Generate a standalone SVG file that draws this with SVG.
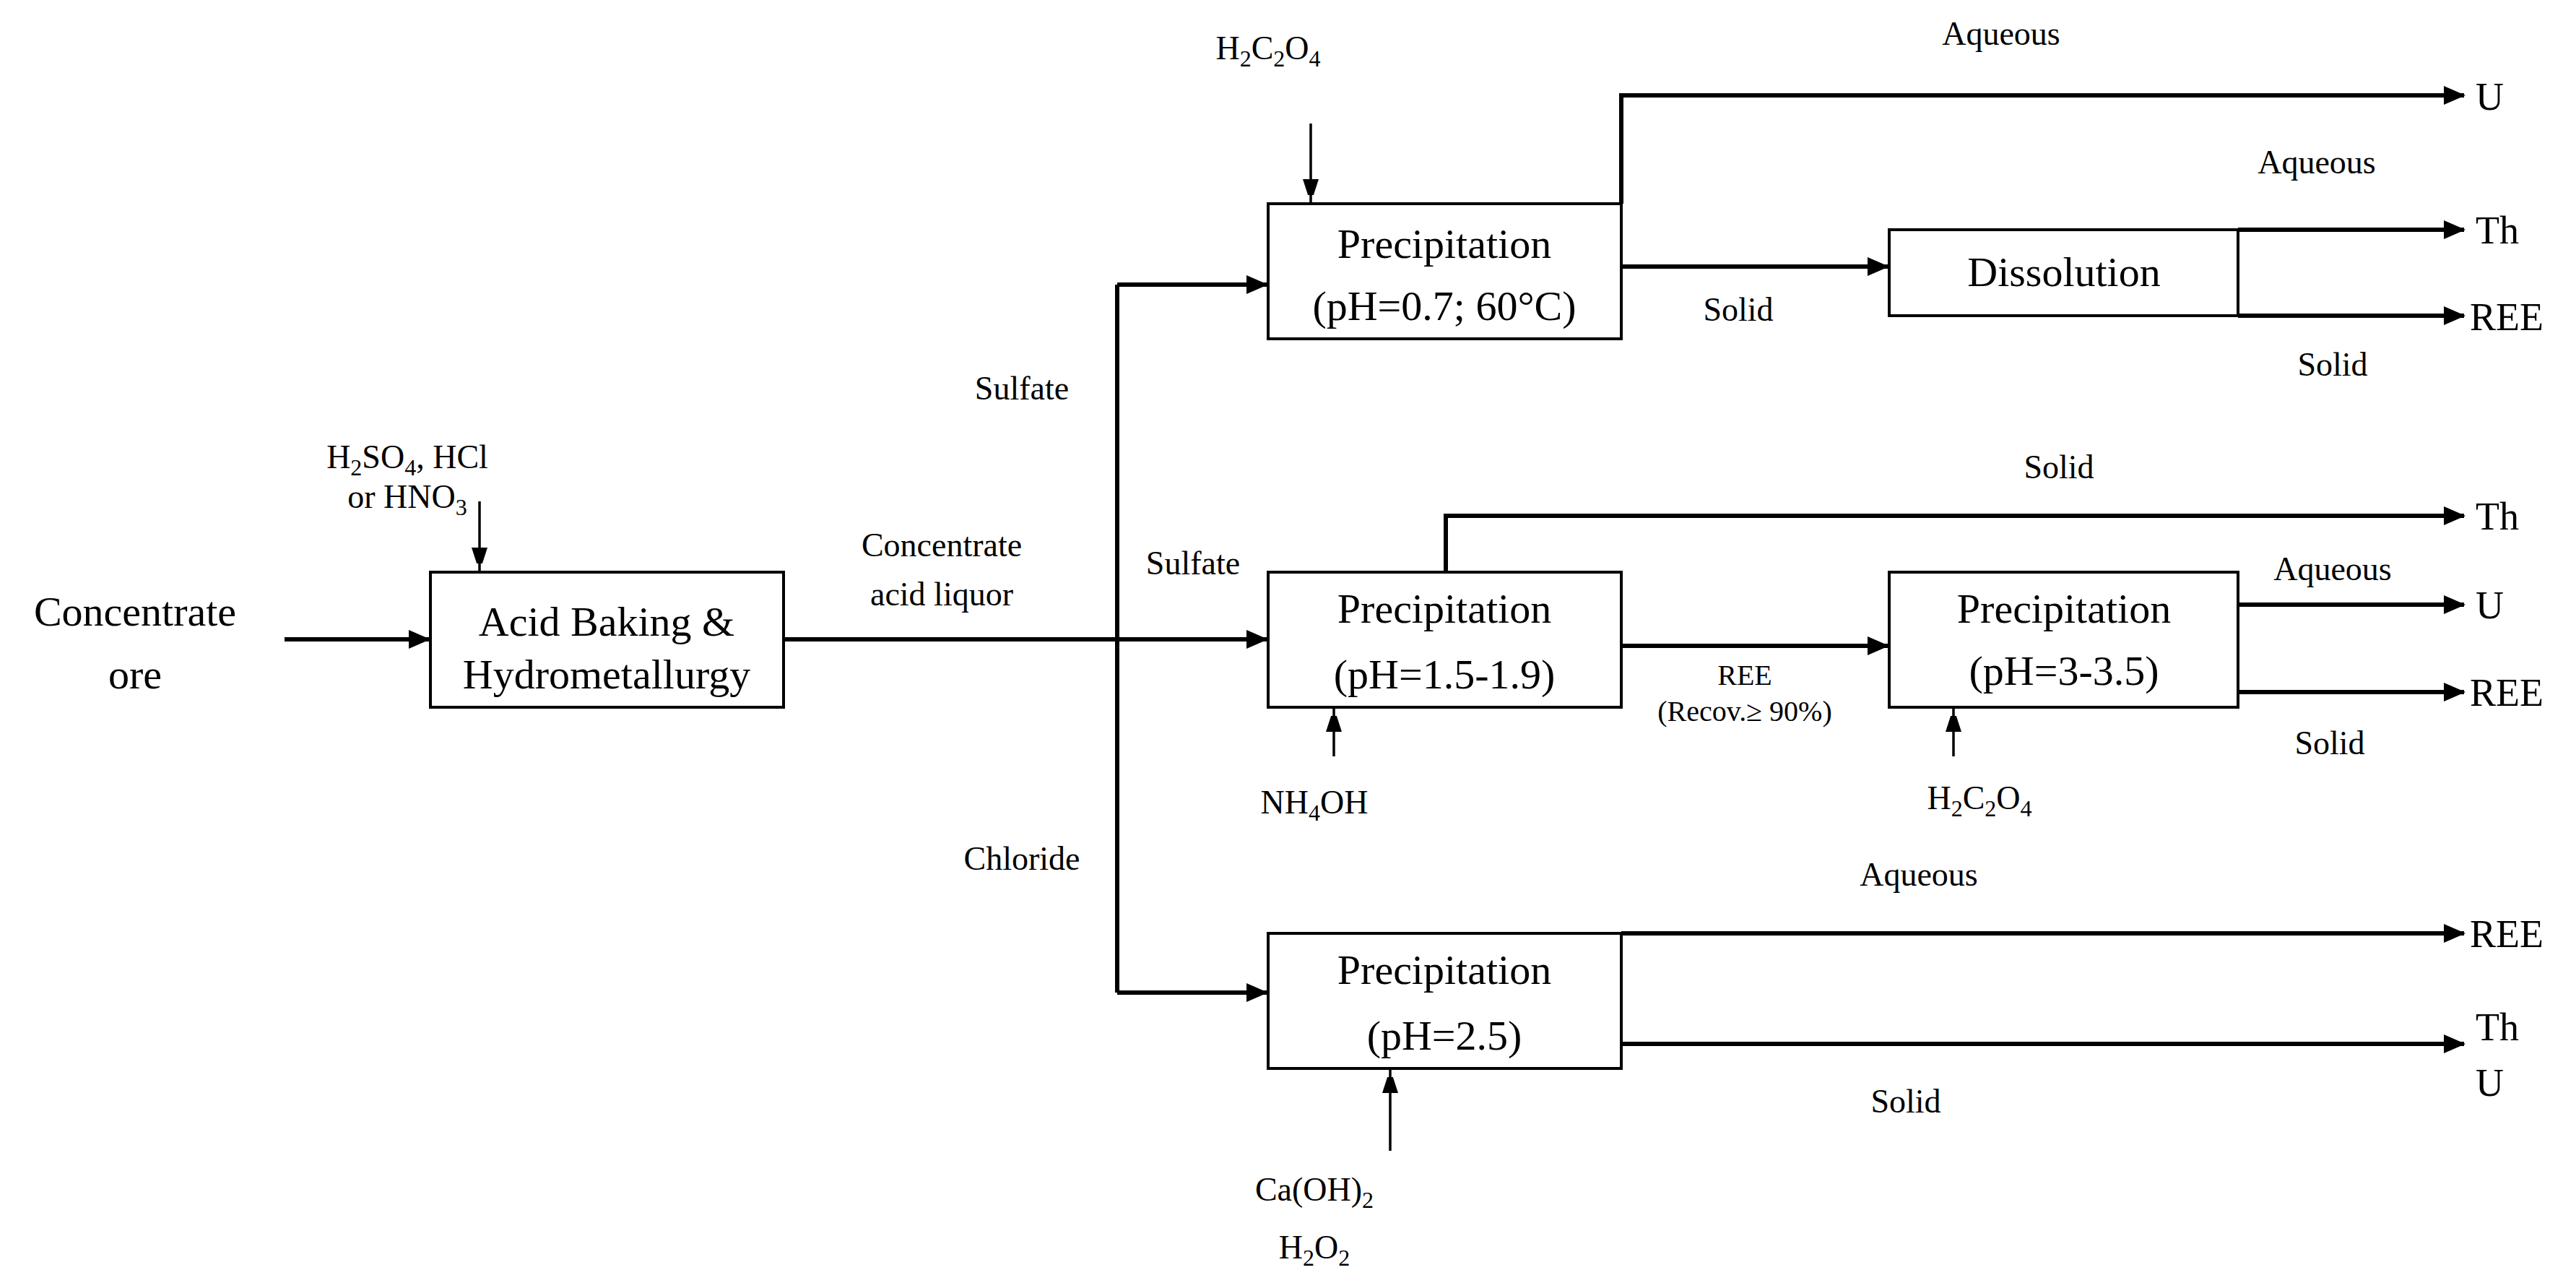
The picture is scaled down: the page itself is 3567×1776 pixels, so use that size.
<svg xmlns="http://www.w3.org/2000/svg" width="3567" height="1776" viewBox="0 0 3567 1776">
<style>
text{font-family:"Liberation Serif","Times New Roman",serif;fill:#000}
.big{font-size:58px;text-anchor:middle}
.lbl{font-size:46px;text-anchor:middle}
.out{font-size:54px}
.sm{font-size:40px;text-anchor:middle}
.box{fill:#fff;stroke:#000;stroke-width:4}
.flow{fill:none;stroke:#000;stroke-width:6}
.reag{fill:none;stroke:#000;stroke-width:3.5}
</style>
<defs>
<marker id="ah" markerUnits="userSpaceOnUse" markerWidth="30" markerHeight="26" refX="28" refY="13" orient="auto"><path d="M0,0 L30,13 L0,26 Z" fill="#000"/></marker>
<marker id="as" markerUnits="userSpaceOnUse" markerWidth="22" markerHeight="34" refX="32" refY="11" orient="auto"><path d="M0,0 L34,11 L0,22 Z" fill="#000"/></marker>
</defs>
<g id="connectors">
<path class="flow" d="M394,885 H594" marker-end="url(#ah)"/>
<path class="reag" d="M664,694 V790" marker-end="url(#as)"/>
<path class="flow" d="M1085,885 H1754" marker-end="url(#ah)"/>
<path class="flow" d="M1547,1374 V394"/>
<path class="flow" d="M1547,394 H1754" marker-end="url(#ah)"/>
<path class="flow" d="M1547,1374 H1754" marker-end="url(#ah)"/>
<path class="reag" d="M1815,171 V280" marker-end="url(#as)"/>
<path class="flow" d="M2245,282 V132 H3412" marker-end="url(#ah)"/>
<path class="flow" d="M2245,369 H2614" marker-end="url(#ah)"/>
<path class="flow" d="M3099,318 H3412" marker-end="url(#ah)"/>
<path class="flow" d="M3099,437 H3412" marker-end="url(#ah)"/>
<path class="flow" d="M2002,792 V714 H3412" marker-end="url(#ah)"/>
<path class="reag" d="M1847,1047 V981" marker-end="url(#as)"/>
<path class="flow" d="M2245,894 H2614" marker-end="url(#ah)"/>
<path class="flow" d="M3099,837 H3412" marker-end="url(#ah)"/>
<path class="flow" d="M3099,958 H3412" marker-end="url(#ah)"/>
<path class="reag" d="M2705,1047 V981" marker-end="url(#as)"/>
<path class="flow" d="M2245,1292 H3412" marker-end="url(#ah)"/>
<path class="flow" d="M2245,1445 H3412" marker-end="url(#ah)"/>
<path class="reag" d="M1925,1593 V1481" marker-end="url(#as)"/>
</g>
<g id="feed">
<text class="big" x="187" y="866">Concentrate</text>
<text class="big" x="187" y="953">ore</text>
</g>
<g id="acid">
<rect class="box" x="596" y="792" width="489" height="187"/>
<text class="big" x="840" y="880">Acid Baking &amp;</text>
<text class="big" x="840" y="953">Hydrometallurgy</text>
</g>
<g id="acid-reagent">
<text class="lbl" x="564" y="648">H<tspan dy="10" font-size="32">2</tspan><tspan dy="-10">SO</tspan><tspan dy="10" font-size="32">4</tspan><tspan dy="-10">, HCl</tspan></text>
<text class="lbl" x="564" y="703">or HNO<tspan dy="10" font-size="32">3</tspan></text>
</g>
<g id="labels">
<text class="lbl" x="1304" y="770">Concentrate</text>
<text class="lbl" x="1304" y="838">acid liquor</text>
<text class="lbl" x="1415" y="553">Sulfate</text>
<text class="lbl" x="1652" y="795">Sulfate</text>
<text class="lbl" x="1415" y="1204">Chloride</text>
<text class="lbl" x="2771" y="62">Aqueous</text>
<text class="lbl" x="2407" y="444">Solid</text>
<text class="lbl" x="3208" y="240">Aqueous</text>
<text class="lbl" x="3230" y="520">Solid</text>
<text class="lbl" x="2851" y="662">Solid</text>
<text class="sm" x="2416" y="948">REE</text>
<text class="sm" x="2416" y="998">(Recov.≥ 90%)</text>
<text class="lbl" x="3230" y="803">Aqueous</text>
<text class="lbl" x="3226" y="1044">Solid</text>
<text class="lbl" x="2657" y="1226">Aqueous</text>
<text class="lbl" x="2639" y="1540">Solid</text>
</g>
<g id="p1">
<rect class="box" x="1756" y="282" width="489" height="187"/>
<text class="big" x="2000" y="357">Precipitation</text>
<text class="big" x="2000" y="443">(pH=0.7; 60°C)</text>
</g>
<g id="p1-reagent"><text class="lbl" x="1756" y="82">H<tspan dy="10" font-size="32">2</tspan><tspan dy="-10">C</tspan><tspan dy="10" font-size="32">2</tspan><tspan dy="-10">O</tspan><tspan dy="10" font-size="32">4</tspan></text></g>
<g id="dissolution">
<rect class="box" x="2616" y="318" width="483" height="119"/>
<text class="big" x="2858" y="396">Dissolution</text>
</g>
<g id="p2">
<rect class="box" x="1756" y="792" width="489" height="187"/>
<text class="big" x="2000" y="862">Precipitation</text>
<text class="big" x="2000" y="953">(pH=1.5-1.9)</text>
</g>
<g id="p2-reagent"><text class="lbl" x="1820" y="1126">NH<tspan dy="10" font-size="32">4</tspan><tspan dy="-10">OH</tspan></text></g>
<g id="p3">
<rect class="box" x="2616" y="792" width="483" height="187"/>
<text class="big" x="2858" y="862">Precipitation</text>
<text class="big" x="2858" y="948">(pH=3-3.5)</text>
</g>
<g id="p3-reagent"><text class="lbl" x="2741" y="1120">H<tspan dy="10" font-size="32">2</tspan><tspan dy="-10">C</tspan><tspan dy="10" font-size="32">2</tspan><tspan dy="-10">O</tspan><tspan dy="10" font-size="32">4</tspan></text></g>
<g id="p4">
<rect class="box" x="1756" y="1292" width="489" height="187"/>
<text class="big" x="2000" y="1362">Precipitation</text>
<text class="big" x="2000" y="1453">(pH=2.5)</text>
</g>
<g id="p4-reagent">
<text class="lbl" x="1820" y="1662">Ca(OH)<tspan dy="10" font-size="32">2</tspan></text>
<text class="lbl" x="1820" y="1742">H<tspan dy="10" font-size="32">2</tspan><tspan dy="-10">O</tspan><tspan dy="10" font-size="32">2</tspan></text>
</g>
<g id="outputs">
<text class="out" x="3428" y="152">U</text>
<text class="out" x="3428" y="337">Th</text>
<text class="out" x="3420" y="457">REE</text>
<text class="out" x="3428" y="733">Th</text>
<text class="out" x="3428" y="856">U</text>
<text class="out" x="3420" y="977">REE</text>
<text class="out" x="3420" y="1311">REE</text>
<text class="out" x="3428" y="1440">Th</text>
<text class="out" x="3428" y="1517">U</text>
</g>
</svg>
